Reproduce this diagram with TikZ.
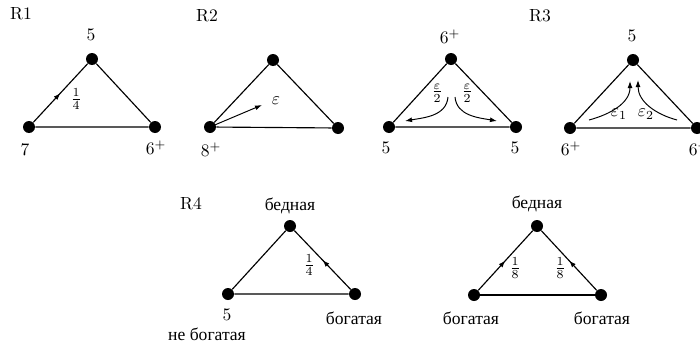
\documentclass[tikz,border=0pt]{standalone}
\usepackage{fontspec}
\newfontfamily\cyr{Liberation Serif}
\usetikzlibrary{arrows.meta,decorations.markings}
\begin{document}
\begin{tikzpicture}[x=0.02cm,y=-0.02cm,
  vtx/.style={circle,fill=black,inner sep=0pt,minimum size=0.24cm},
  tedge/.style={line width=0.65pt},
  midarrow/.style={postaction={decorate},decoration={markings,mark=at position 0.5 with {\arrow{Latex[length=4pt,width=2.8pt]}}}},
  lbl/.style={inner sep=0pt},
  tipline/.style={-{Latex[length=4pt,width=2.8pt]},line width=0.55pt}]
\useasboundingbox (0,0) rectangle (700,345);
% R1
\node[lbl] (r1) at (21,14) {R1};
\node[vtx] (a1) at (92,59) {};
\node[vtx] (a2) at (29,127) {};
\node[vtx] (a3) at (155,127) {};
\draw[tedge] (a1) -- (a3) -- (a2);
\draw[tedge,midarrow] (a2) -- (a1);
\node[lbl] (a1l) at (91,35) {5};
\node[lbl] (a2l) at (25,150) {7};
\node[lbl] (a3l) at (156,148) {$6^+$};
\node[lbl] (a4l) at (76,99) {$\frac{1}{4}$};
% R2
\node[lbl] (r2) at (207,16) {R2};
\node[vtx] (b1) at (273,60) {};
\node[vtx] (b2) at (210,127) {};
\node[vtx] (b3) at (338,128) {};
\draw[tedge] (b2) -- (b1) -- (b3) -- (b2);
\coordinate (bt) at (262,105);
\draw[tipline] (b2.center) -- (bt);
\node[lbl] (b2l) at (211,150) {$8^+$};
\node[lbl] (bel) at (276,101) {$\varepsilon$};
% third triangle
\node[vtx] (c1) at (451,59) {};
\node[vtx] (c2) at (389,127) {};
\node[vtx] (c3) at (516,127) {};
\draw[tedge] (c2) -- (c1) -- (c3) -- (c2);
\node[lbl] (c1l) at (450,37) {$6^+$};
\node[lbl] (c2l) at (386,148) {5};
\node[lbl] (c3l) at (515,148) {5};
\coordinate (cs1) at (448,97);
\coordinate (ce1) at (405,121);
\coordinate (cs2) at (455,97);
\coordinate (ce2) at (497,121);
\draw[tipline] (cs1) to[out=-95,in=10] (ce1);
\draw[tipline] (cs2) to[out=-85,in=170] (ce2);
\node[lbl] (cel1) at (437,93) {$\frac{\varepsilon}{2}$};
\node[lbl] (cel2) at (467,93) {$\frac{\varepsilon}{2}$};
% R3
\node[lbl] (r3) at (540,16) {R3};
\node[vtx] (d1) at (633,60) {};
\node[vtx] (d2) at (570,128) {};
\node[vtx] (d3) at (697,128) {};
\draw[tedge] (d2) -- (d1) -- (d3) -- (d2);
\node[lbl] (d1l) at (632,36) {5};
\node[lbl] (d2l) at (571,149) {$6^+$};
\node[lbl] (d3l) at (699,149) {$6^+$};
\coordinate (ds1) at (589,120);
\coordinate (de1) at (630,81);
\coordinate (ds2) at (677,120);
\coordinate (de2) at (638,80);
\draw[tipline] (ds1) to[out=15,in=-90] (de1);
\draw[tipline] (ds2) to[out=165,in=-90] (de2);
\node[lbl] (del1) at (619,114) {$\varepsilon_1$};
\node[lbl] (del2) at (646,114) {$\varepsilon_2$};
% R4
\node[lbl] (r4) at (191,204) {R4};
\node[vtx] (e1) at (290,226) {};
\node[vtx] (e2) at (228,294) {};
\node[vtx] (e3) at (355,294) {};
\draw[tedge] (e1) -- (e2) -- (e3);
\draw[tedge,midarrow] (e3) -- (e1);
\node[lbl] (e1l) at (290,206) {\cyr бедная};
\node[lbl] (e2l) at (227,315) {5};
\node[lbl] (e2m) at (207,334) {\cyr не богатая};
\node[lbl] (e3l) at (354,318) {\cyr богатая};
\node[lbl] (efr) at (309,265) {$\frac{1}{4}$};
% fifth triangle
\node[vtx] (f1) at (537,226) {};
\node[vtx] (f2) at (474,295) {};
\node[vtx] (f3) at (601,295) {};
\draw[tedge] (f2) -- (f3);
\draw[tedge,midarrow] (f2) -- (f1);
\draw[tedge,midarrow] (f3) -- (f1);
\node[lbl] (f1l) at (537,204) {\cyr бедная};
\node[lbl] (f2l) at (471,318) {\cyr богатая};
\node[lbl] (f3l) at (602,318) {\cyr богатая};
\node[lbl] (ffr1) at (515,268) {$\frac{1}{8}$};
\node[lbl] (ffr2) at (560,268) {$\frac{1}{8}$};
\end{tikzpicture}
\end{document}
